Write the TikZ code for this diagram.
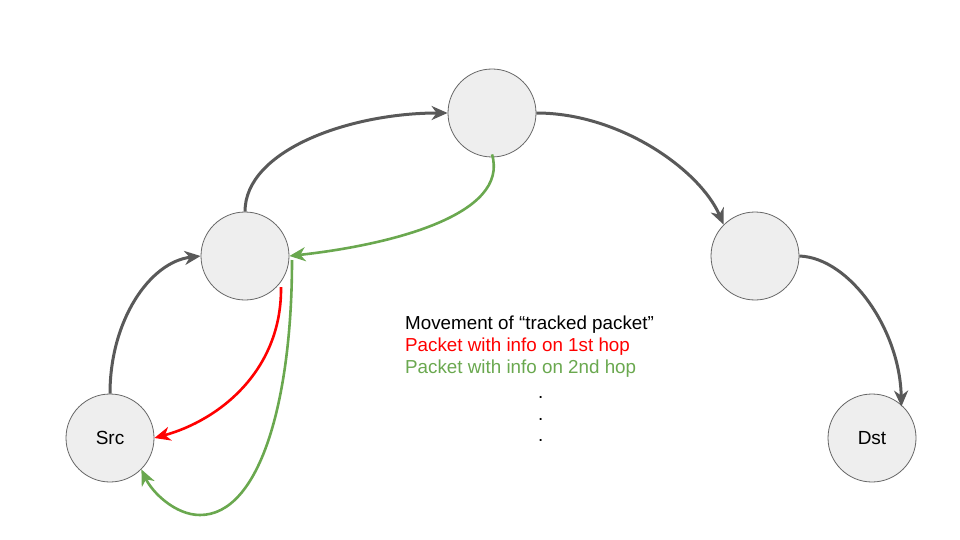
\documentclass[tikz,border=0pt]{standalone}
\usepackage{fontspec}
\setmainfont{Liberation Sans}
\usetikzlibrary{arrows.meta}
\definecolor{nodefill}{HTML}{EEEEEE}
\definecolor{nodeborder}{HTML}{666666}
\definecolor{flowgray}{HTML}{595959}
\definecolor{hopred}{HTML}{FF0000}
\definecolor{hopgreen}{HTML}{6AA84F}
\begin{document}
\begin{tikzpicture}[x=1pt,y=-1pt,
  hop/.style={circle,draw=nodeborder,fill=nodefill,line width=0.8pt,minimum size=88pt,inner sep=0pt,font=\fontsize{19}{22}\selectfont},
  flow/.style={draw=flowgray,line width=3pt,-{Stealth[length=16pt,width=14pt,inset=5pt]}},
  redflow/.style={draw=hopred,line width=2.6pt,-{Stealth[length=16pt,width=14pt,inset=5pt]}},
  greenflow/.style={draw=hopgreen,line width=2.6pt,-{Stealth[length=16pt,width=14pt,inset=5pt]}},
  legend/.style={anchor=west,inner sep=0pt,font=\fontsize{18.8}{22}\selectfont}
]
\useasboundingbox (0,0) rectangle (960,540);
\node[hop] (src) at (110,438) {Src};
\node[hop] (n1) at (245,256) {};
\node[hop] (n2) at (492,113) {};
\node[hop] (n3) at (755,256) {};
\node[hop] (dst) at (872,438) {Dst};

\coordinate (g2s) at (292,260);
\coordinate (r1s) at (281,287);
\coordinate (gbot) at (200,515);

\draw[flow] (src.north) .. controls (110,320) and (150,262) .. (n1.west);
\draw[flow] (n1.north) .. controls (245,150) and (350,113) .. (n2.west);
\draw[flow] (n2.east) .. controls (620,113) and (700,170) .. (n3.north west);
\draw[flow] (n3.east) .. controls (850,258) and (900,330) .. ([xshift=-2pt]dst.north east);

\draw[greenflow] ([yshift=3pt]n2.south) .. controls (510,215) and (390,245) .. (n1.east);
\draw[redflow] (r1s) .. controls (282,370) and (220,420) .. (src.east);
\draw[greenflow] (g2s) .. controls (292,400) and (260,515) .. (gbot) .. controls (175,515) and (152,492) .. (src.south east);

\node[legend] (l1) at (405,325) {Movement of “tracked packet”};
\node[legend,text=hopred] (l2) at (405,347) {Packet with info on 1st hop};
\node[legend,text=hopgreen] (l3) at (405,369) {Packet with info on 2nd hop};
\node[legend] (d1) at (538,397) {.};
\node[legend] (d2) at (538,419) {.};
\node[legend] (d3) at (538,440) {.};
\end{tikzpicture}
\end{document}
